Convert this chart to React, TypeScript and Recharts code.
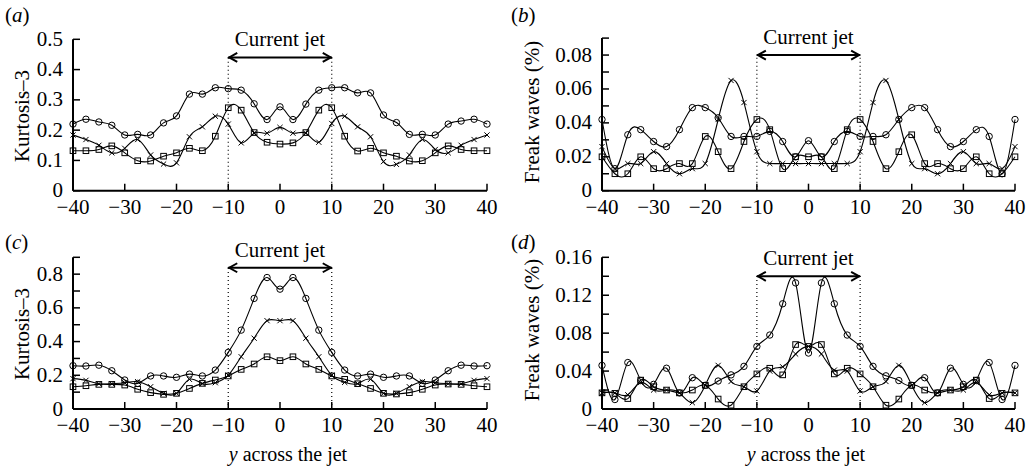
import React from "react";
import { LineChart, Line, XAxis, YAxis, ReferenceLine } from "recharts";

// positions across the jet
const Y_POS = [
  -40, -37.5, -35, -32.5, -30, -27.5, -25, -22.5, -20, -17.5, -15, -12.5, -10, -7.5, -5, -2.5, 0,
  2.5, 5, 7.5, 10, 12.5, 15, 17.5, 20, 22.5, 25, 27.5, 30, 32.5, 35, 37.5, 40,
];
const X_TICKS = [-40, -30, -20, -10, 0, 10, 20, 30, 40];

// (a) kurtosis
const A_CIRCLE = [0.22, 0.236, 0.227, 0.216, 0.184, 0.186, 0.184, 0.224, 0.247, 0.319, 0.319, 0.34, 0.337, 0.332, 0.287, 0.235, 0.277, 0.235, 0.286, 0.332, 0.34, 0.34, 0.323, 0.323, 0.25, 0.225, 0.186, 0.186, 0.184, 0.22, 0.23, 0.236, 0.22];
const A_CROSS = [0.184, 0.169, 0.15, 0.125, 0.14, 0.169, 0.118, 0.088, 0.092, 0.178, 0.211, 0.246, 0.22, 0.158, 0.19, 0.19, 0.209, 0.19, 0.19, 0.16, 0.222, 0.246, 0.211, 0.178, 0.096, 0.087, 0.118, 0.169, 0.136, 0.125, 0.15, 0.169, 0.184];
const A_SQUARE = [0.132, 0.132, 0.136, 0.148, 0.125, 0.099, 0.098, 0.114, 0.125, 0.14, 0.132, 0.18, 0.274, 0.266, 0.192, 0.16, 0.154, 0.158, 0.192, 0.266, 0.274, 0.18, 0.131, 0.14, 0.125, 0.114, 0.098, 0.099, 0.125, 0.148, 0.136, 0.132, 0.132];

// (b) freak waves
const B_CIRCLE = [0.042, 0.013, 0.033, 0.036, 0.029, 0.026, 0.036, 0.049, 0.049, 0.043, 0.032, 0.032, 0.032, 0.035, 0.029, 0.02, 0.0295, 0.02, 0.029, 0.035, 0.032, 0.032, 0.033, 0.042, 0.049, 0.049, 0.036, 0.026, 0.029, 0.036, 0.032, 0.01, 0.042];
const B_CROSS = [0.026, 0.013, 0.016, 0.016, 0.023, 0.016, 0.01, 0.013, 0.016, 0.042, 0.065, 0.052, 0.023, 0.016, 0.016, 0.016, 0.016, 0.016, 0.016, 0.016, 0.023, 0.052, 0.065, 0.042, 0.016, 0.013, 0.01, 0.016, 0.023, 0.016, 0.016, 0.013, 0.026];
const B_SQUARE = [0.02, 0.01, 0.01, 0.02, 0.013, 0.013, 0.016, 0.016, 0.032, 0.023, 0.013, 0.029, 0.042, 0.036, 0.013, 0.02, 0.02, 0.02, 0.013, 0.036, 0.042, 0.029, 0.013, 0.023, 0.033, 0.016, 0.016, 0.013, 0.013, 0.02, 0.01, 0.01, 0.02];

// (c) kurtosis
const C_CIRCLE = [0.257, 0.255, 0.26, 0.227, 0.172, 0.152, 0.196, 0.196, 0.188, 0.207, 0.196, 0.231, 0.336, 0.468, 0.656, 0.78, 0.711, 0.78, 0.656, 0.468, 0.336, 0.231, 0.196, 0.207, 0.188, 0.196, 0.196, 0.152, 0.172, 0.227, 0.26, 0.255, 0.257];
const C_CROSS = [0.18, 0.17, 0.15, 0.15, 0.156, 0.162, 0.132, 0.093, 0.093, 0.176, 0.15, 0.156, 0.2, 0.31, 0.42, 0.524, 0.524, 0.524, 0.42, 0.31, 0.2, 0.158, 0.15, 0.176, 0.093, 0.093, 0.132, 0.162, 0.156, 0.15, 0.15, 0.17, 0.18];
const C_SQUARE = [0.132, 0.138, 0.146, 0.146, 0.142, 0.117, 0.097, 0.087, 0.093, 0.122, 0.152, 0.172, 0.196, 0.235, 0.267, 0.31, 0.287, 0.31, 0.267, 0.235, 0.196, 0.176, 0.15, 0.122, 0.093, 0.089, 0.097, 0.117, 0.142, 0.148, 0.146, 0.138, 0.132];

// (d) freak waves
const D_CIRCLE = [0.046, 0.01, 0.049, 0.03, 0.026, 0.043, 0.017, 0.033, 0.025, 0.0295, 0.036, 0.045, 0.066, 0.078, 0.111, 0.133, 0.059, 0.133, 0.111, 0.078, 0.066, 0.045, 0.035, 0.03, 0.025, 0.033, 0.017, 0.043, 0.026, 0.03, 0.049, 0.01, 0.046];
const D_CROSS = [0.017, 0.017, 0.015, 0.028, 0.02, 0.02, 0.017, 0.0067, 0.025, 0.046, 0.029, 0.0235, 0.019, 0.04, 0.0445, 0.058, 0.066, 0.058, 0.041, 0.04, 0.019, 0.0235, 0.029, 0.046, 0.025, 0.0067, 0.017, 0.02, 0.02, 0.028, 0.015, 0.017, 0.017];
const D_SQUARE = [0.017, 0.0165, 0.011, 0.0305, 0.0235, 0.02, 0.017, 0.02, 0.025, 0.0105, 0.004, 0.0235, 0.037, 0.043, 0.036, 0.068, 0.066, 0.068, 0.037, 0.043, 0.037, 0.0235, 0.004, 0.0105, 0.025, 0.02, 0.017, 0.02, 0.0235, 0.0305, 0.011, 0.0165, 0.017];

const A_TICKS = [0, 0.1, 0.2, 0.3, 0.4, 0.5];
const A_LABELS = [0, 0.1, 0.2, 0.3, 0.4, 0.5];
const B_TICKS = [0, 0.01, 0.02, 0.03, 0.04, 0.05, 0.06, 0.07, 0.08, 0.09];
const B_LABELS = [0, 0.02, 0.04, 0.06, 0.08];
const C_TICKS = [0, 0.1, 0.2, 0.3, 0.4, 0.5, 0.6, 0.7, 0.8, 0.9];
const C_LABELS = [0, 0.2, 0.4, 0.6, 0.8];
const D_TICKS = [0, 0.02, 0.04, 0.06, 0.08, 0.1, 0.12, 0.14, 0.16];
const D_LABELS = [0, 0.04, 0.08, 0.12, 0.16];

const JET = [-10, 10];
const FONT = "'Liberation Serif', 'DejaVu Serif', serif";

const merge = (c: number[], x: number[], s: number[]) =>
  Y_POS.map((y, i) => ({ y, c: c[i], x: x[i], s: s[i] }));

const circleDot = (p: any) => (
  <circle key={`c${p.index}`} cx={p.cx} cy={p.cy} r={3.2} fill="none" stroke="#000" strokeWidth={1} />
);
const crossDot = (p: any) => (
  <path
    key={`x${p.index}`}
    d={`M${p.cx - 2.6},${p.cy - 2.6}L${p.cx + 2.6},${p.cy + 2.6}M${p.cx - 2.6},${p.cy + 2.6}L${p.cx + 2.6},${p.cy - 2.6}`}
    stroke="#000"
    strokeWidth={1}
  />
);
const squareDot = (p: any) => (
  <rect key={`s${p.index}`} x={p.cx - 2.8} y={p.cy - 2.8} width={5.6} height={5.6} fill="none" stroke="#000" strokeWidth={1} />
);

function XTick({ x, y, payload }: any) {
  const v = payload.value;
  return (
    <g>
      <line x1={x} x2={x} y1={y} y2={y - 7} stroke="#000" strokeWidth={1.5} />
      <text x={x} y={y + 23} textAnchor="middle" style={{ fontFamily: FONT }} fontSize={21} fill="#000">
        {v < 0 ? `\u2212${-v}` : `${v}`}
      </text>
    </g>
  );
}

function YTick({ x, y, payload, labels }: any) {
  const v = payload.value;
  const show = labels.some((l: number) => Math.abs(l - v) < 1e-9);
  return (
    <g>
      <line x1={x} x2={x + 7} y1={y} y2={y} stroke="#000" strokeWidth={1.5} />
      {show && (
        <text x={x - 10} y={y + 6.5} textAnchor="end" style={{ fontFamily: FONT }} fontSize={21} fill="#000">
          {String(v)}
        </text>
      )}
    </g>
  );
}

function JetArrow(p: any) {
  const l = Math.min(p.x1, p.x2);
  const r = Math.max(p.x1, p.x2);
  const y = p.y1;
  return (
    <g>
      <line x1={l} x2={r} y1={y} y2={y} stroke="#000" strokeWidth={2} />
      <polyline points={`${l + 9},${y - 4.5} ${l + 1},${y} ${l + 9},${y + 4.5}`} fill="none" stroke="#000" strokeWidth={2} />
      <polyline points={`${r - 9},${y - 4.5} ${r - 1},${y} ${r - 9},${y + 4.5}`} fill="none" stroke="#000" strokeWidth={2} />
      <text x={(l + r) / 2} y={y - 11} textAnchor="middle" style={{ fontFamily: FONT }} fontSize={21} fill="#000">
        Current jet
      </text>
    </g>
  );
}

interface PanelProps {
  left: number; top: number; width: number; height: number;
  plot: [number, number, number, number];
  data: { y: number; c: number; x: number; s: number }[];
  yMax: number; yTicks: number[]; yLabels: number[]; arrowY: number;
}

function Panel({ left, top, width, height, plot, data, yMax, yTicks, yLabels, arrowY }: PanelProps) {
  const [x0, x1, y0, y1] = plot;
  const xh = 30;
  const margin = { top: y0 - top, right: left + width - x1, left: 0, bottom: top + height - y1 - xh };
  return (
    <div style={{ position: "absolute", left, top }}>
      <LineChart width={width} height={height} data={data} margin={margin}>
        <XAxis
          dataKey="y" type="number" domain={[-40, 40]} ticks={X_TICKS} interval={0} height={xh}
          tickSize={0} tickMargin={0} tickLine={false}
          axisLine={{ stroke: "#000", strokeWidth: 2 }}
          tick={(t: any) => <XTick {...t} />}
        />
        <YAxis
          type="number" domain={[0, yMax]} ticks={yTicks} interval={0} width={x0 - left}
          tickSize={0} tickMargin={0} tickLine={false}
          axisLine={{ stroke: "#000", strokeWidth: 2 }}
          tick={(t: any) => <YTick {...t} labels={yLabels} />}
        />
        {JET.map((j) => (
          <ReferenceLine key={j} segment={[{ x: j, y: 0 }, { x: j, y: arrowY }]} stroke="#000" strokeWidth={1.2} strokeDasharray="1 3" />
        ))}
        <ReferenceLine segment={[{ x: JET[0], y: arrowY }, { x: JET[1], y: arrowY }]} shape={JetArrow} />
        <Line type="natural" dataKey="c" stroke="#000" strokeWidth={1.1} dot={circleDot} activeDot={false} isAnimationActive={false} />
        <Line type="natural" dataKey="x" stroke="#000" strokeWidth={1.1} dot={crossDot} activeDot={false} isAnimationActive={false} />
        <Line type="natural" dataKey="s" stroke="#000" strokeWidth={1.1} dot={squareDot} activeDot={false} isAnimationActive={false} />
      </LineChart>
    </div>
  );
}

function PanelTag({ x, y, letter }: { x: number; y: number; letter: string }) {
  return (
    <text x={x} y={y} style={{ fontFamily: FONT }} fontSize={21} fill="#000">
      (<tspan fontStyle="italic">{letter}</tspan>)
    </text>
  );
}

function YTitle({ x, y, text }: { x: number; y: number; text: string }) {
  return (
    <text x={x} y={y} transform={`rotate(-90 ${x} ${y})`} textAnchor="middle" style={{ fontFamily: FONT }} fontSize={21} fill="#000">
      {text}
    </text>
  );
}

function XTitle({ x, y }: { x: number; y: number }) {
  return (
    <text x={x} y={y} textAnchor="middle" style={{ fontFamily: FONT }} fontSize={20} fill="#000">
      <tspan fontStyle="italic">y</tspan> across the jet
    </text>
  );
}

export default function App() {
  return (
    <div style={{ position: "absolute", left: 0, top: 0, width: 1027, height: 470, background: "#fff", overflow: "hidden", fontFamily: FONT }}>
      <Panel left={0} top={0} width={520} height={232} plot={[73, 487, 39.3, 190.7]} data={merge(A_CIRCLE, A_CROSS, A_SQUARE)} yMax={0.5} yTicks={A_TICKS} yLabels={A_LABELS} arrowY={0.44} />
      <Panel left={520} top={0} width={507} height={232} plot={[602, 1015, 38.1, 190.7]} data={merge(B_CIRCLE, B_CROSS, B_SQUARE)} yMax={0.09} yTicks={B_TICKS} yLabels={B_LABELS} arrowY={0.08} />
      <Panel left={0} top={232} width={520} height={238} plot={[73, 487, 257.3, 409]} data={merge(C_CIRCLE, C_CROSS, C_SQUARE)} yMax={0.9} yTicks={C_TICKS} yLabels={C_LABELS} arrowY={0.838} />
      <Panel left={520} top={232} width={507} height={238} plot={[602, 1015, 257.3, 409]} data={merge(D_CIRCLE, D_CROSS, D_SQUARE)} yMax={0.16} yTicks={D_TICKS} yLabels={D_LABELS} arrowY={0.14} />
      <svg width={1027} height={470} style={{ position: "absolute", left: 0, top: 0, pointerEvents: "none" }}>
        <PanelTag x={5} y={22} letter="a" />
        <PanelTag x={511} y={22} letter="b" />
        <PanelTag x={5} y={249} letter="c" />
        <PanelTag x={511} y={249} letter="d" />
        <YTitle x={29} y={116} text="Kurtosis–3" />
        <YTitle x={539} y={112} text="Freak waves (%)" />
        <YTitle x={29} y={334} text="Kurtosis–3" />
        <YTitle x={539} y={330} text="Freak waves (%)" />
        <XTitle x={288} y={461} />
        <XTitle x={806} y={461} />
      </svg>
    </div>
  );
}
